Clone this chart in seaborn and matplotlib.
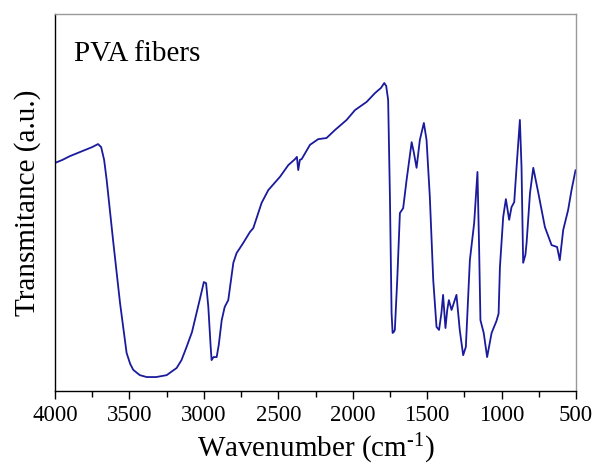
import matplotlib
matplotlib.use("Agg")
import matplotlib.pyplot as plt
import seaborn as sns
import pandas as pd
from matplotlib.ticker import MultipleLocator

wavenumber = [4000, 3950, 3900, 3850, 3800, 3750, 3711, 3690, 3670, 3653, 3608, 3563, 3519,
              3495, 3474, 3430, 3384, 3320, 3250, 3183, 3150, 3116, 3080, 3049, 3020, 3000, 2985,
              2970, 2955, 2948, 2935, 2914, 2900, 2880, 2860, 2836, 2802, 2780, 2758, 2735,
              2690, 2668, 2612, 2567, 2489, 2433, 2388, 2375, 2366, 2355, 2343, 2287, 2232,
              2176, 2120, 2041, 1985, 1906, 1851, 1810, 1788, 1775, 1762, 1750, 1739, 1732,
              1725, 1717, 1701, 1683, 1661, 1638, 1604, 1590, 1571, 1549, 1522, 1504, 1482,
              1459, 1437, 1420, 1404, 1393, 1377, 1365, 1354, 1336, 1303, 1281, 1258, 1240,
              1213, 1184, 1162, 1151, 1142, 1120, 1097, 1067, 1035, 1020, 1011, 989, 971,
              949, 933, 915, 896, 877, 866, 855, 840, 832, 809, 787, 753, 709, 664, 627,
              609, 586, 553, 530, 503]
transmittance = [60.5, 61.3, 62.3, 63.1, 63.9, 64.7, 65.5, 64.7, 61.3, 56.0, 39.3, 23.3, 10.1,
                 7.2, 5.6, 4.2, 3.7, 3.7, 4.2, 6.1, 8.2, 11.7, 15.6, 20.7, 25.5, 28.9, 28.6,
                 22.3, 12.2, 8.2, 9.0, 9.0, 12.2, 18.8, 22.3, 24.1, 34.0, 36.6, 37.9, 39.3,
                 42.2, 43.2, 49.9, 53.3, 56.8, 59.9, 61.5, 62.1, 58.6, 61.3, 61.5, 65.3, 66.8,
                 67.1, 69.2, 71.9, 74.5, 76.7, 79.0, 80.4, 81.7, 80.9, 77.2, 51.5, 20.7, 15.4,
                 15.6, 16.2, 29.4, 47.2, 48.5, 56.0, 66.0, 63.4, 59.2, 66.6, 71.1, 66.6, 51.5,
                 29.4, 17.0, 16.2, 20.7, 25.5, 16.7, 21.5, 24.1, 21.5, 25.5, 16.2, 9.5, 11.7,
                 34.7, 44.6, 58.1, 38.2, 18.8, 15.4, 9.0, 15.4, 18.5, 20.5, 32.9, 46.2, 50.9,
                 45.4, 48.8, 50.1, 61.3, 71.9, 59.4, 34.0, 36.1, 39.3, 52.5, 59.2, 52.5, 43.5,
                 38.7, 38.2, 34.7, 42.7, 48.0, 53.3, 58.6]
x_ticks = [4000, 3500, 3000, 2500, 2000, 1500, 1000, 500]

df = pd.DataFrame({"wavenumber": wavenumber, "T": transmittance})

sns.set_style("white")
plt.rcParams["font.family"] = ["Liberation Serif", "DejaVu Serif"]
plt.rcParams["mathtext.fontset"] = "custom"
plt.rcParams["mathtext.rm"] = "Liberation Serif"
plt.rcParams["mathtext.it"] = "Liberation Serif:italic"
plt.rcParams["text.color"] = "black"
plt.rcParams["axes.labelcolor"] = "black"

fig = plt.figure(figsize=(5.95, 4.66), dpi=100)
ax = fig.add_axes([55 / 595, 1 - 391 / 466, 521 / 595, 377 / 466])

sns.lineplot(data=df, x="wavenumber", y="T", sort=False, ax=ax,
             color="#1a1a9c", linewidth=1.3)

ax.set_xlim(4000, 500)
ax.set_ylim(0, 100)
ax.set_xticks(x_ticks)
ax.set_xticklabels([str(t) for t in x_ticks], fontsize=16.5, color="black")
ax.xaxis.set_minor_locator(MultipleLocator(250))
ax.tick_params(axis="x", which="major", direction="out", length=6, width=1,
               bottom=True, top=False, pad=4, colors="black")
ax.tick_params(axis="x", which="minor", direction="out", length=4, width=1,
               bottom=True, top=False, colors="black")
ax.set_yticks([])

for side in ["left", "bottom"]:
    ax.spines[side].set_color("black")
    ax.spines[side].set_linewidth(1.0)
for side in ["top", "right"]:
    ax.spines[side].set_color("#999999")
    ax.spines[side].set_linewidth(1.0)

ax.set_xlabel(r"Wavenumber (cm$^{\text{-1}}$)", fontsize=21, labelpad=4, color="black")
ax.set_ylabel("Transmitance (a.u.)", fontsize=21, labelpad=10, color="black")
ax.text(0.036, 0.895, "PVA fibers", transform=ax.transAxes, fontsize=21,
        ha="left", va="center", color="black")

fig.savefig("out.png", dpi=100)
